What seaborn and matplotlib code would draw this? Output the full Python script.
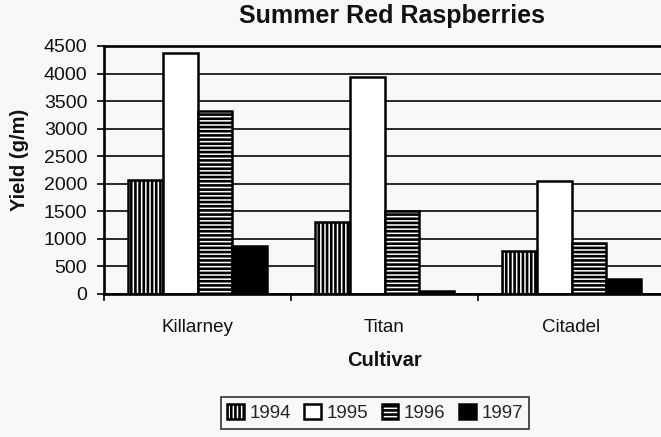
import matplotlib
matplotlib.use("Agg")
import matplotlib.pyplot as plt
import seaborn as sns
import pandas as pd

cultivars = ["Killarney", "Titan", "Citadel"]
years = ["1994", "1995", "1996", "1997"]
yield_1994 = [2060, 1300, 780]
yield_1995 = [4380, 3930, 2050]
yield_1996 = [3320, 1500, 930]
yield_1997 = [870, 60, 280]
y_ticks = [0, 500, 1000, 1500, 2000, 2500, 3000, 3500, 4000, 4500]

series = {"1994": yield_1994, "1995": yield_1995, "1996": yield_1996, "1997": yield_1997}
rows = []
for yr in years:
    for c, v in zip(cultivars, series[yr]):
        rows.append({"Cultivar": c, "Year": yr, "Yield": v})
df = pd.DataFrame(rows)

sns.set_style("white")
plt.rcParams["font.family"] = ["Liberation Sans", "DejaVu Sans"]
plt.rcParams["hatch.linewidth"] = 1.9
plt.rcParams["hatch.color"] = "black"

bg = "#f8f7fa"
fig = plt.figure(figsize=(6.61, 4.37), dpi=100, facecolor=bg)
ax = fig.add_axes([104 / 661, 1 - 294 / 437, 561 / 661, 248 / 437])
ax.set_facecolor(bg)

palette = {"1994": "white", "1995": "white", "1996": "white", "1997": "black"}
hatches = ["||||", "", "----", ""]

sns.barplot(data=df, x="Cultivar", y="Yield", hue="Year", order=cultivars,
            hue_order=years, palette=palette, edgecolor="black", linewidth=1.8,
            width=0.74, saturation=1, ax=ax, legend=False, errorbar=None)

for cont, h in zip(ax.containers, hatches):
    for p in cont.patches:
        p.set_hatch(h)
        p.set_edgecolor("black")

ax.set_xlim(-0.5, 2.5)
ax.set_ylim(0, 4500)
ax.set_yticks(y_ticks)
ax.set_yticklabels([str(t) for t in y_ticks])
ax.yaxis.grid(True, color="#1a1a1a", linewidth=1.3)
ax.xaxis.grid(False)
ax.set_axisbelow(True)

for s in ["left", "top", "bottom", "right"]:
    ax.spines[s].set_visible(True)
    ax.spines[s].set_color("black")
    ax.spines[s].set_linewidth(1.9)

ax.set_xticks([0, 1, 2])
ax.set_xticklabels(cultivars)
ax.set_xticks([-0.5, 0.5, 1.5, 2.5], minor=True)
ax.tick_params(axis="x", which="major", length=0, pad=18, labelsize=13.5, colors="#111")
ax.tick_params(axis="x", which="minor", bottom=True, length=5, width=1.2, color="black", direction="out")
ax.tick_params(axis="y", left=True, length=5, width=1.2, color="black", direction="out",
               pad=7, labelsize=14, labelcolor="#111")
ax.set_xlabel("")
ax.set_ylabel("")

fig.text(392 / 661, 1 - 16 / 437, "Summer Red Raspberries", ha="center", va="center",
         fontsize=18, fontweight="bold", color="#111")
fig.text(384 / 661, 1 - 360 / 437, "Cultivar", ha="center", va="center",
         fontsize=14.5, fontweight="bold", color="#111")
fig.text(20 / 661, 1 - 160 / 437, "Yield (g/m)", ha="center", va="center", rotation=90,
         fontsize=14.5, fontweight="bold", color="#111")

handles = [cont.patches[0] for cont in ax.containers]
leg = fig.legend(handles, years, loc="center", bbox_to_anchor=(375 / 661, 1 - 413 / 437),
                 ncol=4, fontsize=13.5, frameon=True, fancybox=False, edgecolor="black",
                 facecolor=bg, handlelength=0.9, handleheight=0.9, handletextpad=0.3,
                 columnspacing=0.7, borderpad=0.35, borderaxespad=0)
leg.get_frame().set_linewidth(1.2)

fig.savefig("out.png", dpi=100, facecolor=bg)
